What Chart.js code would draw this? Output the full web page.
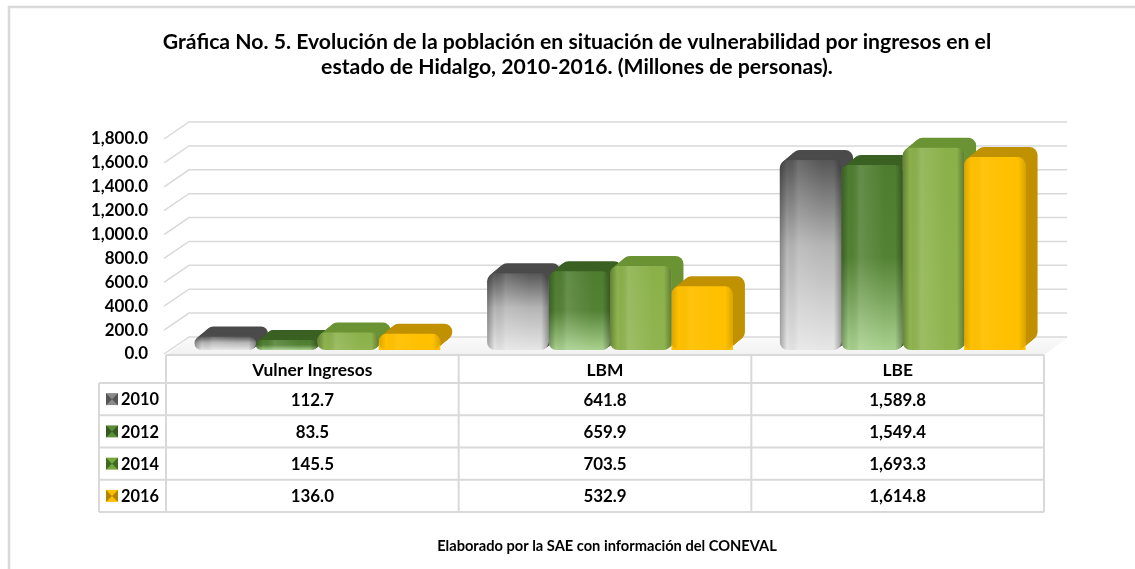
<!DOCTYPE html>
<html>
<head>
<meta charset="utf-8">
<script src="https://cdn.jsdelivr.net/npm/chart.js@4.4.1/dist/chart.umd.min.js"></script>
<style>
  html, body { margin: 0; padding: 0; background: #fff; }
  canvas { display: block; }
</style>
</head>
<body>
<canvas id="chart" width="1135" height="569"></canvas>
<script>
// data
const categories = ['Vulner Ingresos', 'LBM', 'LBE'];
const years = ['2010', '2012', '2014', '2016'];
const v2010 = [112.7, 641.8, 1589.8];
const v2012 = [83.5, 659.9, 1549.4];
const v2014 = [145.5, 703.5, 1693.3];
const v2016 = [136.0, 532.9, 1614.8];
const yTicks = [0, 200, 400, 600, 800, 1000, 1200, 1400, 1600, 1800];

const titleLines = [
  'Gráfica No. 5. Evolución de la población en situación de vulnerabilidad por ingresos en el',
  'estado de Hidalgo, 2010-2016. (Millones de personas).'
];
const sourceText = 'Elaborado por la SAE con información del CONEVAL';

const FONT = 'Lato';
const fmt = v => v.toLocaleString('en-US', {minimumFractionDigits: 1, maximumFractionDigits: 1});

// pick font sizes so that texts take the width they have in the picture
const meas = document.createElement('canvas').getContext('2d');
function fit(text, width) {
  meas.font = 'bold 100px ' + FONT;
  return 100 * width / meas.measureText(text).width;
}
const titleSize = fit(titleLines[0], 829);
const tickSize = fit('1,800.0', 57);
const headSize = fit('Vulner Ingresos', 120);
const yearSize = fit('2010', 38);
const sourceSize = fit(sourceText, 340);

// looks of the series
const looks = [
  {stops: [[0, '#565656'], [0.45, '#b4b4b4'], [1, '#e6e6e6']], depth: '#4b4b4b', icon: ['#8a8a8a', '#555555']},
  {stops: [[0, '#4e7d30'], [0.5, '#548235'], [1, '#a9d18e']], depth: '#3a6123', icon: ['#5b8c3a', '#345a20']},
  {stops: [[0, '#8ab04a'], [1, '#90b550']], depth: '#6b9334', icon: ['#7aa640', '#3f6a22']},
  {stops: [[0, '#ffc000'], [1, '#ffc000']], depth: '#c09100', icon: ['#ffc000', '#b08400']}
];
const FDX = 23, FDY = -17;      // floor depth
const BDX = 12, BDY = -10;      // bar depth
const SHIFT_X = 5, SHIFT_Y = -4;

function frontFill(i) {
  return c => {
    const y = c.chart.scales.y;
    if (!y || c.raw === undefined) return looks[i].stops[0][1];
    const t = y.getPixelForValue(c.raw), b = y.getPixelForValue(0);
    if (!isFinite(t) || !isFinite(b) || t === b) return looks[i].stops[0][1];
    const g = c.chart.ctx.createLinearGradient(0, t, 0, b);
    looks[i].stops.forEach(s => g.addColorStop(s[0], s[1]));
    return g;
  };
}

function radius(el) {
  const h = Math.abs(el.base - el.y);
  return Math.min(8, h / 2, el.width / 2);
}

const depthPlugin = {
  id: 'depth',
  beforeDatasetsDraw(chart) {
    const {ctx, chartArea: a, scales: {y}} = chart;
    ctx.save();
    const fg = ctx.createLinearGradient(0, a.bottom + FDY, 0, a.bottom);
    fg.addColorStop(0, '#fafafa');
    fg.addColorStop(1, '#f2f2f2');
    ctx.fillStyle = fg;
    ctx.beginPath();
    ctx.moveTo(a.left, a.bottom + 1);
    ctx.lineTo(a.left + FDX, a.bottom + 1 + FDY);
    ctx.lineTo(a.right + FDX, a.bottom + 1 + FDY);
    ctx.lineTo(a.right, a.bottom + 1);
    ctx.closePath();
    ctx.fill();
    ctx.strokeStyle = '#d9d9d9';
    ctx.lineWidth = 1.5;
    yTicks.forEach(v => {
      const py = y.getPixelForValue(v);
      ctx.beginPath();
      ctx.moveTo(a.left - 2, py);
      ctx.lineTo(a.left + FDX, py + FDY);
      ctx.lineTo(a.right + FDX, py + FDY);
      ctx.stroke();
    });
    ctx.restore();

    // bars: extrusion behind the front faces
    ctx.save();
    ctx.translate(SHIFT_X, SHIFT_Y);
    chart.data.datasets.forEach((ds, i) => {
      chart.getDatasetMeta(i).data.forEach(el => {
        const r = radius(el);
        const left = el.x - el.width / 2, h = el.base - el.y;
        ctx.fillStyle = looks[i].depth;
        for (let s = 12; s >= 1; s--) {
          const t = s / 12;
          ctx.beginPath();
          ctx.roundRect(left + BDX * t, el.y + BDY * t, el.width, h, r);
          ctx.fill();
        }
      });
    });
  },
  afterDatasetsDraw(chart) {
    const {ctx} = chart;
    chart.data.datasets.forEach((ds, i) => {
      chart.getDatasetMeta(i).data.forEach(el => {
        const r = radius(el);
        const left = el.x - el.width / 2, h = el.base - el.y;
        if (!isFinite(left) || !isFinite(h)) return;
        ctx.save();
        ctx.beginPath();
        ctx.roundRect(left, el.y, el.width, h, r);
        ctx.clip();
        const g = ctx.createLinearGradient(left, 0, left + el.width, 0);
        const k = i === 3 ? 0.5 : 1;
        g.addColorStop(0, 'rgba(0,0,0,' + 0.28 * k + ')');
        g.addColorStop(0.12, 'rgba(0,0,0,0)');
        g.addColorStop(0.3, 'rgba(255,255,255,' + 0.12 * k + ')');
        g.addColorStop(0.7, 'rgba(255,255,255,0)');
        g.addColorStop(0.88, 'rgba(0,0,0,0)');
        g.addColorStop(1, 'rgba(0,0,0,' + 0.3 * k + ')');
        ctx.fillStyle = g;
        ctx.fillRect(left, el.y, el.width, h);
        ctx.restore();
      });
    });
    ctx.restore();
  },
  afterDraw(chart) {
    const {ctx, chartArea: a, scales: {x}} = chart;
    ctx.save();
    // frame
    ctx.strokeStyle = '#d9d9d9';
    ctx.lineWidth = 2.5;
    ctx.beginPath();
    ctx.moveTo(9, 569);
    ctx.lineTo(9, 7);
    ctx.lineTo(1135, 7);
    ctx.stroke();

    // title and source
    ctx.fillStyle = '#000';
    ctx.textAlign = 'center';
    ctx.textBaseline = 'alphabetic';
    ctx.font = 'bold ' + titleSize + 'px ' + FONT;
    ctx.fillText(titleLines[0], 577, 49);
    ctx.fillText(titleLines[1], 577, 74);
    ctx.font = 'bold ' + sourceSize + 'px ' + FONT;
    ctx.fillText(sourceText, 607, 551);

    // data table
    const catW = (a.right - a.left) / categories.length;
    const top = a.bottom + 1, headB = 383, rowH = 32.25;
    const legL = 99;
    const rowsB = headB + rowH * years.length;
    ctx.strokeStyle = '#d9d9d9';
    ctx.lineWidth = 2;
    ctx.beginPath();
    ctx.moveTo(a.left, top); ctx.lineTo(a.right, top);
    for (let r = 0; r <= years.length; r++) {
      const py = headB + rowH * r;
      ctx.moveTo(legL, py); ctx.lineTo(a.right, py);
    }
    ctx.moveTo(legL, headB); ctx.lineTo(legL, rowsB);
    for (let c = 0; c <= categories.length; c++) {
      const px = a.left + catW * c;
      ctx.moveTo(px, top); ctx.lineTo(px, rowsB);
    }
    ctx.stroke();

    const series = [v2010, v2012, v2014, v2016];
    ctx.textBaseline = 'middle';
    ctx.font = 'bold ' + headSize + 'px ' + FONT;
    categories.forEach((c, i) => ctx.fillText(c, x.getPixelForValue(i), (top + headB) / 2 + 1));
    ctx.font = 'bold ' + tickSize + 'px ' + FONT;
    series.forEach((vals, r) => {
      const my = headB + rowH * (r + 0.5);
      vals.forEach((v, i) => ctx.fillText(fmt(v), x.getPixelForValue(i), my + 1));
    });

    // legend keys
    ctx.textAlign = 'left';
    ctx.font = 'bold ' + yearSize + 'px ' + FONT;
    years.forEach((yr, r) => {
      const my = headB + rowH * (r + 0.5);
      const s = 12, ix = 106, iy = my - s / 2;
      const [c1, c2] = looks[r].icon;
      ctx.fillStyle = c1;
      ctx.fillRect(ix, iy, s, s);
      ctx.fillStyle = c2;
      ctx.beginPath();
      ctx.moveTo(ix, iy); ctx.lineTo(ix + s / 2, iy + s / 2); ctx.lineTo(ix, iy + s);
      ctx.moveTo(ix + s, iy); ctx.lineTo(ix + s / 2, iy + s / 2); ctx.lineTo(ix + s, iy + s);
      ctx.fill();
      ctx.fillStyle = '#000';
      ctx.fillText(yr, 121, my + 1);
    });
    ctx.restore();
  }
};

const datasets = [v2010, v2012, v2014, v2016].map((vals, i) => ({
  label: years[i],
  data: vals,
  backgroundColor: frontFill(i),
  borderWidth: 0,
  borderRadius: 8,
  borderSkipped: i === 3 ? 'start' : false,
  categoryPercentage: 0.84,
  barPercentage: 1.0
}));

new Chart(document.getElementById('chart'), {
  type: 'bar',
  data: {labels: categories, datasets: datasets},
  options: {
    responsive: false,
    animation: false,
    devicePixelRatio: 1,
    layout: {padding: {left: 86, right: 91, top: 139, bottom: 215}},
    plugins: {legend: {display: false}, tooltip: {enabled: false}},
    scales: {
      x: {display: false},
      y: {
        min: 0,
        max: 1800,
        afterFit: s => { s.width = 80; },
        grid: {display: false, drawTicks: false},
        border: {display: false},
        ticks: {
          stepSize: 200,
          padding: 18,
          color: '#000',
          font: {family: FONT, weight: 'bold', size: tickSize},
          callback: v => fmt(v)
        }
      }
    }
  },
  plugins: [depthPlugin]
});
</script>
</body>
</html>
